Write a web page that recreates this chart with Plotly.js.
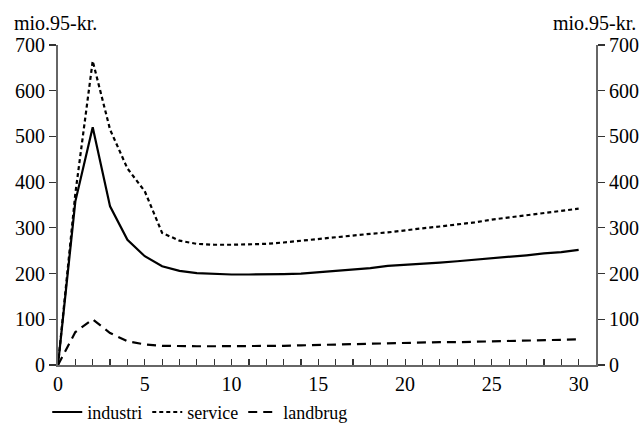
<!DOCTYPE html>
<html>
<head>
<meta charset="utf-8">
<script src="https://cdn.plot.ly/plotly-3.0.1.min.js"></script>
<style>html,body{margin:0;padding:0;background:#fff;}#chart{width:641px;height:425px;}</style>
</head>
<body>
<div id="chart"></div>
<script>
const years = [0,1,2,3,4,5,6,7,8,9,10,11,12,13,14,15,16,17,18,19,20,21,22,23,24,25,26,27,28,29,30];
const industri = [0,358,520,347,274,238,216,206,201,199,198,198,198,199,200,203,206,209,212,217,219,221,224,227,230,233,236,240,244,247,252];
const service = [0,375,665,515,430,380,289,272,265,263,263,264,265,268,272,276,279,283,287,290,295,299,303,307,312,318,323,327,332,337,342];
const landbrug = [0,72,100,70,52,45,42,41,41,41,41,41,42,42,43,44,45,46,46,47,48,49,50,50,51,52,53,54,55,55,56];
const xTicks = [0,5,10,15,20,25,30];
const yTicks = [0,100,200,300,400,500,600,700];
const unitLabel = "mio.95-kr.";

const FONT = "Liberation Serif";
const traces = [
  {x: years, y: industri, name: "industri", mode: "lines", line: {color: "#000", width: 2.2, dash: "solid"}},
  {x: years, y: service, name: "service", mode: "lines", line: {color: "#000", width: 2.2, dash: "4px,3px"}},
  {x: years, y: landbrug, name: "landbrug", mode: "lines", line: {color: "#000", width: 2.2, dash: "9px,6px"}},
  {x: [], y: [], yaxis: "y2", mode: "lines", showlegend: false, hoverinfo: "skip"}
];
const axisCommon = {showgrid: false, zeroline: false, showline: true, linecolor: "#666", linewidth: 2, tickcolor: "#333", tickwidth: 1.2, tickfont: {family: FONT, size: 20, color: "#000"}};
const layout = {
  width: 641, height: 425,
  margin: {l: 58, r: 45, t: 45, b: 60, autoexpand: false},
  paper_bgcolor: "#fff", plot_bgcolor: "#fff",
  font: {family: FONT, size: 20, color: "#000"},
  showlegend: true,
  legend: {orientation: "h", x: -0.02, xanchor: "left", y: -0.09, yanchor: "top", font: {family: FONT, size: 18, color: "#000"}, bgcolor: "rgba(0,0,0,0)"},
  xaxis: Object.assign({}, axisCommon, {range: [0, 31], tickvals: xTicks, ticktext: xTicks.map(String), ticks: "inside", ticklen: 6,
    minor: {dtick: 1, tick0: 0, ticks: "inside", ticklen: 6, tickcolor: "#333", tickwidth: 1.2}}),
  yaxis: Object.assign({}, axisCommon, {range: [0, 700], tickvals: yTicks, ticks: "outside", ticklen: 7}),
  yaxis2: Object.assign({}, axisCommon, {range: [0, 700], tickvals: yTicks, ticks: "outside", ticklen: 7, overlaying: "y", side: "right", anchor: "x"}),
  annotations: [
    {text: unitLabel, xref: "paper", yref: "paper", x: -0.0855, xanchor: "left", y: 1.068, yanchor: "middle", showarrow: false, font: {family: FONT, size: 20, color: "#000"}},
    {text: unitLabel, xref: "paper", yref: "paper", x: 1.078, xanchor: "right", y: 1.068, yanchor: "middle", showarrow: false, font: {family: FONT, size: 20, color: "#000"}}
  ]
};
Plotly.newPlot("chart", traces, layout, {displayModeBar: false, staticPlot: true});
</script>
</body>
</html>
